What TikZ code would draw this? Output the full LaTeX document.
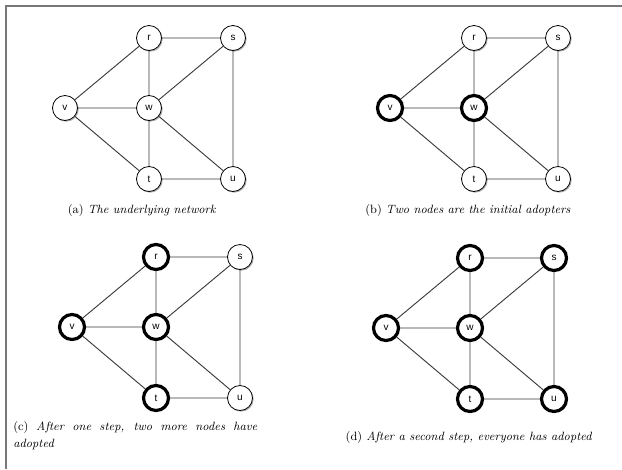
\documentclass[tikz,border=0pt]{standalone}
\usepackage{fontspec}
\newfontfamily\nodefont{Liberation Sans}
\usetikzlibrary{shadows}
\definecolor{edgegray}{HTML}{3A3A3A}
\definecolor{framegray}{HTML}{777777}
\tikzset{
  gnode/.style={circle, draw=black, fill=white, minimum size=18.75pt, inner sep=0pt,
     font=\nodefont\fontsize{7.5}{7.5}\selectfont,
     drop shadow={shadow xshift=0.9pt, shadow yshift=-0.9pt, opacity=0.3, fill=black}},
  plain/.style={gnode, line width=0.6pt},
  adopted/.style={gnode, line width=2.4pt},
  gedge/.style={draw=edgegray, line width=0.7pt},
  capt/.style={font=\fontsize{9}{12.75}\selectfont, inner sep=0pt},
  frameline/.style={draw=framegray, line width=1.6pt}
}
\newcommand{\drawgraphpanel}[8]{%
  \begin{scope}[shift={(#2)}]
    \node[#3] (#1v) at (0,70) {v};
    \node[#4] (#1r) at (84,0) {r};
    \node[#5] (#1s) at (168,0) {s};
    \node[#6] (#1w) at (84,70) {w};
    \node[#7] (#1t) at (84,141) {t};
    \node[#8] (#1u) at (168,141) {u};
    \path[gedge] (#1v) -- (#1r) (#1v) -- (#1w) (#1v) -- (#1t)
      (#1r) -- (#1s) (#1r) -- (#1w) (#1w) -- (#1s) (#1w) -- (#1t)
      (#1w) -- (#1u) (#1s) -- (#1u) (#1t) -- (#1u);
  \end{scope}}
\begin{document}
\begin{tikzpicture}[x=0.75pt, y=-0.75pt]
\useasboundingbox (0,0) rectangle (622,469);
\coordinate (ftl) at (6,6);
\coordinate (ftr) at (622,6);
\coordinate (fbl) at (6,469);
\draw[frameline] (ftr) -- (ftl) -- (fbl);
\drawgraphpanel{a}{65,38}{plain}{plain}{plain}{plain}{plain}{plain}
\drawgraphpanel{b}{390,38}{adopted}{plain}{plain}{adopted}{plain}{plain}
\drawgraphpanel{c}{72,257}{adopted}{adopted}{plain}{adopted}{adopted}{plain}
\drawgraphpanel{d}{386,258}{adopted}{adopted}{adopted}{adopted}{adopted}{adopted}
\node[capt] (capa) at (142,210) {(a) \textit{The underlying network}};
\node[capt] (capb) at (468,210) {(b) \textit{Two nodes are the initial adopters}};
\node[capt, anchor=north west, text width=183pt, align=justify] (capc) at (13,421)
  {(c) \textit{After one step, two more nodes have adopted}};
\node[capt] (capd) at (469,437) {(d) \textit{After a second step, everyone has adopted}};
\end{tikzpicture}
\end{document}
